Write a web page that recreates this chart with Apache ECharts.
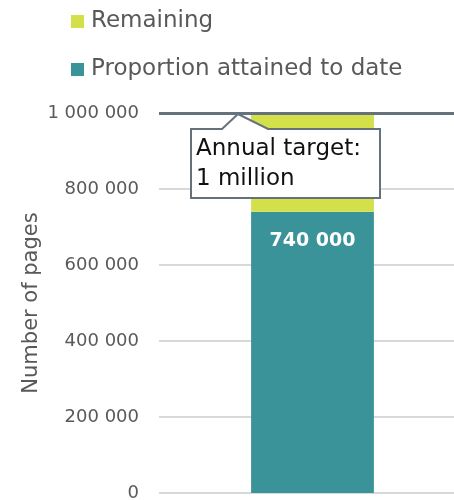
<!DOCTYPE html>
<html><head><meta charset="utf-8">
<script src="https://cdn.jsdelivr.net/npm/echarts@6/dist/echarts.min.js"></script>
<style>html,body{margin:0;padding:0;background:#fff}#c{width:454px;height:500px}</style>
</head><body><div id="c"></div>
<script>
const categories = ['2024'];
const attained = [740000];
const remaining = [260000];
const target = 1000000;
const seriesNames = ['Proportion attained to date', 'Remaining'];
const calloutLines = ['Annual target:', '1 million'];
const FONT = 'DejaVu Sans';

const chart = echarts.init(document.getElementById('c'), null, {renderer: 'canvas'});
const fmt = v => String(v).replace(/\B(?=(\d{3})+(?!\d))/g, ' ');
chart.setOption({
  animation: false,
  textStyle: {fontFamily: FONT},
  legend: {
    data: [seriesNames[1], seriesNames[0]],
    orient: 'vertical', left: 66, top: 5, itemGap: 25,
    icon: 'rect', itemWidth: 13, itemHeight: 13,
    textStyle: {fontFamily: FONT, fontSize: 23, color: '#595959', padding: [0, 0, 0, 2]}
  },
  grid: {left: 159, width: 307, top: 113, bottom: 7, containLabel: false, outerBoundsMode: 'none'},
  xAxis: {type: 'category', data: categories, axisLine: {show: false}, axisTick: {show: false}, axisLabel: {show: false}},
  yAxis: {
    type: 'value', min: 0, max: 1000000, interval: 200000,
    name: 'Number of pages', nameLocation: 'middle', nameRotate: 90, nameGap: 117,
    nameMoveOverlap: false,
    nameTextStyle: {fontFamily: FONT, fontSize: 21, color: '#595959'},
    axisLabel: {formatter: fmt, fontFamily: FONT, fontSize: 18, color: '#595959', margin: 20},
    splitLine: {lineStyle: {color: '#d9d9d9', width: 2}},
    axisLine: {show: false}, axisTick: {show: false}
  },
  series: [
    {name: seriesNames[0], type: 'bar', stack: 's', data: attained, barWidth: '40%',
     itemStyle: {color: '#3a9399'},
     label: {show: true, position: 'insideTop', distance: 20, formatter: p => fmt(p.value),
       color: '#fff', fontWeight: 'bold', fontSize: 19, fontFamily: FONT}},
    {name: seriesNames[1], type: 'bar', stack: 's', data: remaining,
     itemStyle: {color: '#d4e04a'},
     markLine: {silent: true, symbol: 'none', label: {show: false},
       lineStyle: {color: '#66727b', width: 3, type: 'solid'},
       data: [{yAxis: target}]}}
  ]
});

// Callout anchored on the target line
const p = chart.convertToPixel({gridIndex: 0}, [0, target]);
const tipX = 238, tipY = p[1] + 1;
const bx = 191, by = tipY + 15, bw = 189, bh = 69;
chart.setOption({graphic: [
  {type: 'polygon', z: 100, shape: {points: [
    [bx, by], [222, by], [tipX, tipY], [268, by], [bx + bw, by], [bx + bw, by + bh], [bx, by + bh]
  ]}, style: {fill: '#fff', stroke: '#66727b', lineWidth: 2}},
  {type: 'text', z: 101, left: bx + 5, top: by + 5, style: {
    text: calloutLines.join('\n'), font: '23px "DejaVu Sans"', fill: '#111', lineHeight: 30}}
]});
</script></body></html>
